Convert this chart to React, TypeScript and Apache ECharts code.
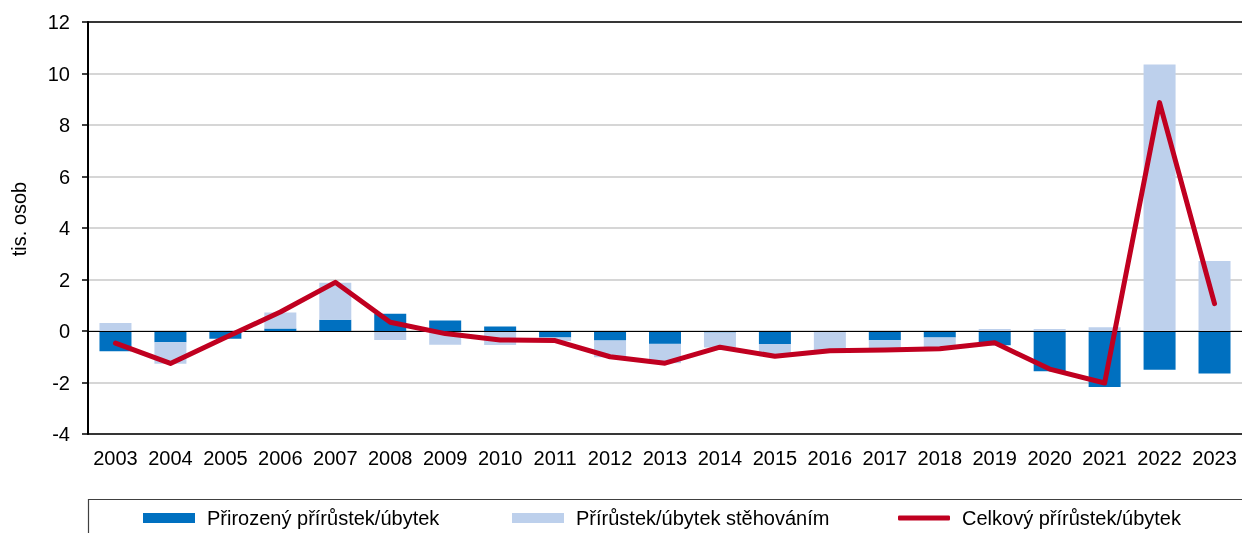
import React, { useEffect, useRef } from "react";
import * as echarts from "echarts";

const years = ["2003","2004","2005","2006","2007","2008","2009","2010","2011","2012","2013","2014","2015","2016","2017","2018","2019","2020","2021","2022","2023"];
const natural = [-0.79,-0.44,-0.30,0.10,0.44,0.67,0.41,0.17,-0.25,-0.37,-0.50,-0.06,-0.50,-0.04,-0.36,-0.25,-0.55,-1.56,-2.17,-1.50,-1.65];
const migration = [0.31,-0.83,0.03,0.62,1.43,-0.35,-0.53,-0.54,-0.14,-0.65,-0.75,-0.58,-0.48,-0.72,-0.39,-0.45,0.08,0.08,0.15,10.35,2.72];
const total = [-0.47,-1.26,-0.25,0.74,1.89,0.34,-0.10,-0.35,-0.37,-1.00,-1.25,-0.63,-0.98,-0.77,-0.74,-0.69,-0.46,-1.48,-2.02,8.87,1.06];
const yTicks = { min: -4, max: 12, interval: 2 };

const names = ["Přirozený přírůstek/úbytek", "Přírůstek/úbytek stěhováním", "Celkový přírůstek/úbytek"];
const FONT = "Liberation Sans, Arial, sans-serif";

export default function App() {
  const ref = useRef<HTMLDivElement>(null);
  useEffect(() => {
    const chart = echarts.init(ref.current!, undefined, { renderer: "svg" });
    const legendBase = {
      top: 508,
      padding: 0,
      itemWidth: 52,
      itemHeight: 10,
      selectedMode: false,
      textStyle: { fontFamily: FONT, fontSize: 20, color: "#000", padding: [0, 0, 0, 7] },
    };
    chart.setOption({
      animation: false,
      grid: { left: 88, top: 22, width: 1155, height: 412, containLabel: false },
      legend: [
        { ...legendBase, left: 143, data: [{ name: names[0], icon: "rect" }] },
        { ...legendBase, left: 512, data: [{ name: names[1], icon: "rect" }] },
        { ...legendBase, left: 898, itemHeight: 5, data: [{ name: names[2], icon: "roundRect" }] },
      ],
      xAxis: [
        {
          type: "category",
          data: years,
          position: "bottom",
          axisLine: { onZero: false, lineStyle: { color: "#000", width: 1.5 } },
          axisTick: { show: false },
          axisLabel: { fontFamily: FONT, fontSize: 20, color: "#000", margin: 14, interval: 0 },
        },
        {
          type: "category",
          data: years,
          position: "top",
          axisLine: { onZero: false, lineStyle: { color: "#000", width: 1.5 } },
          axisTick: { show: false },
          axisLabel: { show: false },
        },
      ],
      yAxis: {
        type: "value",
        min: yTicks.min,
        max: yTicks.max,
        interval: yTicks.interval,
        axisLine: { show: true, lineStyle: { color: "#000", width: 2 } },
        axisTick: { show: true, length: 6, lineStyle: { color: "#000", width: 1.5 } },
        axisLabel: { fontFamily: FONT, fontSize: 20, color: "#000", margin: 18 },
        splitLine: { show: true, lineStyle: { color: "#C8C8C8", width: 1.5 } },
      },
      graphic: [
        {
          type: "text",
          x: 19,
          y: 219,
          rotation: Math.PI / 2,
          style: { text: "tis. osob", fontFamily: FONT, fontSize: 20, fill: "#000", align: "center", verticalAlign: "middle" },
        },
        {
          type: "rect",
          shape: { x: 88.5, y: 499.5, width: 1200, height: 80 },
          style: { fill: "none", stroke: "#404040", lineWidth: 1.2 },
        },
      ],
      series: [
        {
          name: names[0],
          type: "bar",
          stack: "s",
          data: natural,
          barWidth: 32,
          itemStyle: { color: "#0070C0" },
          markLine: {
            silent: true,
            symbol: "none",
            label: { show: false },
            lineStyle: { color: "#000", width: 1, type: "solid" },
            data: [{ yAxis: 0 }],
          },
        },
        {
          name: names[1],
          type: "bar",
          stack: "s",
          data: migration,
          barWidth: 32,
          itemStyle: { color: "#BDD0EC" },
        },
        {
          name: names[2],
          type: "line",
          data: total,
          symbol: "none",
          lineStyle: { color: "#C00020", width: 5, cap: "round", join: "round" },
          itemStyle: { color: "#C00020" },
          z: 5,
        },
      ],
    });
    return () => chart.dispose();
  }, []);
  return <div ref={ref} style={{ position: "fixed", left: 0, top: 0, width: 1242, height: 533 }} />;
}
